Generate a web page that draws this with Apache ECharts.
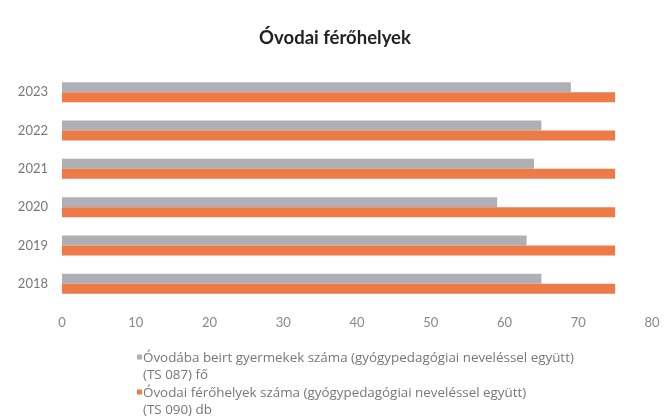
<!DOCTYPE html>
<html>
<head>
<meta charset="utf-8">
<script src="https://cdn.jsdelivr.net/npm/echarts@6/dist/echarts.min.js"></script>
<style>html,body{margin:0;padding:0;background:#fff;}#c{width:670px;height:417px;}</style>
</head>
<body>
<div id="c"></div>
<script>
var years = ['2018', '2019', '2020', '2021', '2022', '2023'];
var enrolled = [65, 63, 59, 64, 65, 69];
var places = [75, 75, 75, 75, 75, 75];
var nameEnrolled = 'Óvodába beirt gyermekek száma (gyógypedagógiai neveléssel együtt)\n(TS 087) fő';
var namePlaces = 'Óvodai férőhelyek száma (gyógypedagógiai neveléssel együtt)\n(TS 090) db';
var xTicks = [0, 10, 20, 30, 40, 50, 60, 70, 80];

var chart = echarts.init(document.getElementById('c'), null, {renderer: 'canvas'});
var iconPath = 'path://M0,0L5,0L5,5L0,5Z M0,24L0.01,24';
var legendText = {fontFamily: 'Open Sans', fontSize: 13.4, color: '#777', lineHeight: 17.5, padding: [0, 0, 0, -4]};
function makeLegend(name, top) {
  return {
    orient: 'vertical',
    left: 132,
    top: top,
    itemGap: 0,
    itemWidth: 5,
    itemHeight: 24,
    data: [{name: name, icon: iconPath}],
    textStyle: legendText
  };
}
chart.setOption({
  animation: false,
  title: {
    text: 'Óvodai férőhelyek',
    left: 'center',
    top: 24,
    textStyle: {fontFamily: 'Lato', fontSize: 18.5, fontWeight: 'bold', color: '#222'}
  },
  grid: {left: 62, right: 18, top: 73, bottom: 114},
  legend: [makeLegend(nameEnrolled, 344), makeLegend(namePlaces, 379)],
  xAxis: {
    type: 'value',
    min: xTicks[0],
    max: xTicks[xTicks.length - 1],
    interval: 10,
    axisLine: {show: false},
    axisTick: {show: false},
    splitLine: {show: false},
    axisLabel: {fontFamily: 'Lato', fontSize: 13, color: '#888', margin: 13}
  },
  yAxis: {
    type: 'category',
    data: years,
    axisLine: {show: false},
    axisTick: {show: false},
    axisLabel: {fontFamily: 'Lato', fontSize: 13, color: '#777', margin: 14}
  },
  series: [
    {
      name: nameEnrolled,
      type: 'bar',
      data: enrolled,
      barWidth: 10,
      barGap: '0%',
      itemStyle: {color: '#b0afb6'}
    },
    {
      name: namePlaces,
      type: 'bar',
      data: places,
      barWidth: 10,
      barGap: '0%',
      itemStyle: {color: '#ee7a48'}
    }
  ]
});
</script>
</body>
</html>
